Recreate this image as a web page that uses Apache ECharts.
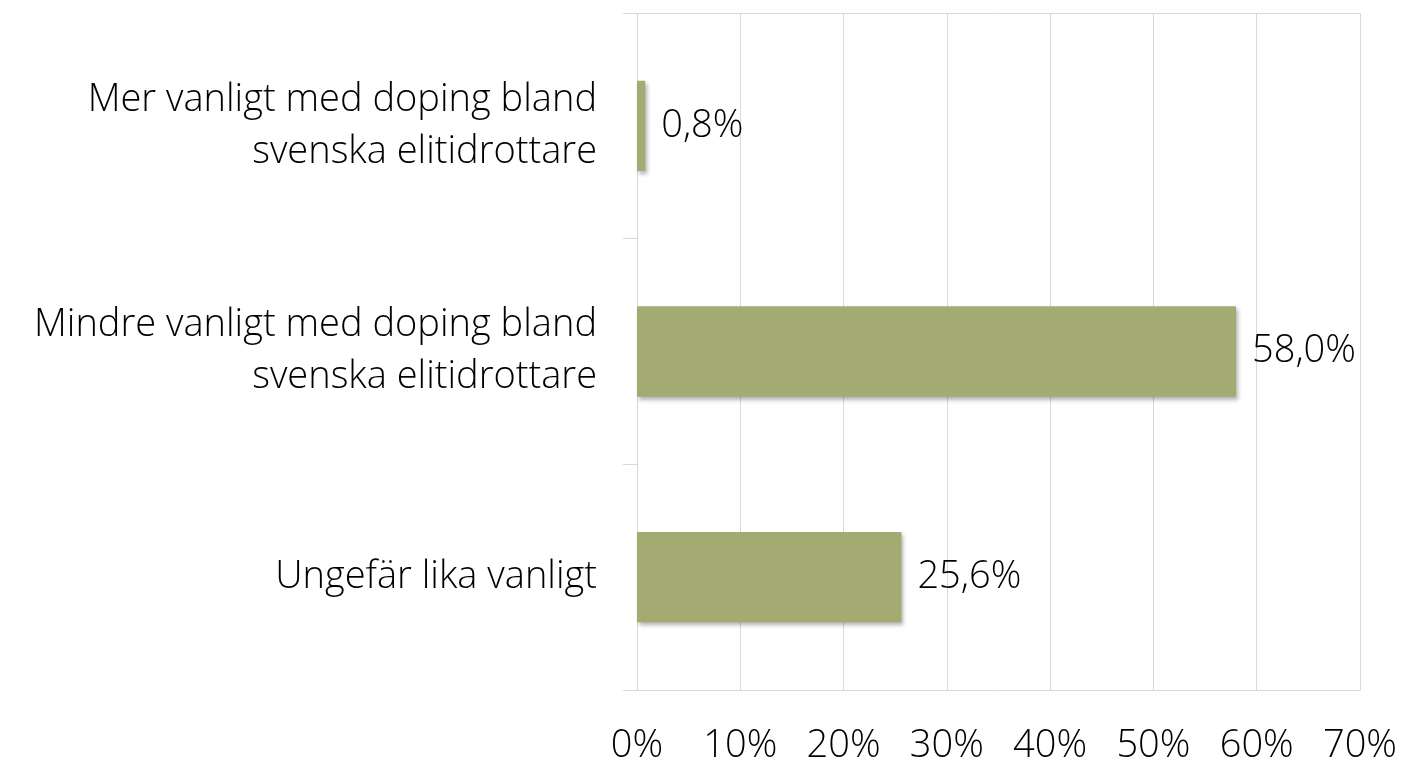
<!DOCTYPE html>
<html>
<head>
<meta charset="utf-8">
<script src="https://cdn.jsdelivr.net/npm/echarts@6/dist/echarts.min.js"></script>
<style>
html,body{margin:0;padding:0;background:#fff;}
#chart{width:1401px;height:765px;}
</style>
</head>
<body>
<div id="chart"></div>
<script>
var categories = [
  "Mer vanligt med doping bland\nsvenska elitidrottare",
  "Mindre vanligt med doping bland\nsvenska elitidrottare",
  "Ungefär lika vanligt"
];
var values = [0.8, 58.0, 25.6];
var xTicks = [0, 10, 20, 30, 40, 50, 60, 70];

var FONT = '"Open Sans"';
var FS = 38;
var chart = echarts.init(document.getElementById('chart'), null, {renderer: 'canvas'});
chart.setOption({
  animation: false,
  grid: {left: 637, right: 41, top: 13, bottom: 72, containLabel: false},
  xAxis: [{
    type: 'value',
    min: xTicks[0],
    max: xTicks[xTicks.length - 1],
    interval: 10,
    position: 'bottom',
    axisLine: {show: true, lineStyle: {color: '#d9d9d9', width: 1}},
    axisTick: {show: false},
    axisLabel: {
      margin: 37,
      fontFamily: FONT, fontWeight: 300, fontSize: FS, color: '#000',
      formatter: function (v) { return v + '%'; }
    },
    splitLine: {show: true, lineStyle: {color: '#d9d9d9', width: 1}}
  }, {
    type: 'value',
    min: xTicks[0],
    max: xTicks[xTicks.length - 1],
    interval: 10,
    position: 'top',
    axisLine: {show: true, onZero: false, lineStyle: {color: '#d9d9d9', width: 1}},
    axisTick: {show: false},
    axisLabel: {show: false},
    splitLine: {show: false}
  }],
  yAxis: {
    type: 'category',
    inverse: true,
    data: categories,
    axisLine: {show: false},
    axisTick: {show: true, length: 14, inside: false, lineStyle: {color: '#d9d9d9', width: 1}},
    axisLabel: {
      margin: 40,
      fontFamily: FONT, fontWeight: 300, fontSize: FS, color: '#000',
      lineHeight: 52, align: 'right',
      padding: [6, 0, 0, 0]
    },
    splitLine: {show: false}
  },
  series: [{
    type: 'bar',
    data: values,
    barWidth: '40%',
    itemStyle: {
      color: '#A3AB72',
      shadowColor: 'rgba(0,0,0,0.3)',
      shadowBlur: 4,
      shadowOffsetX: 2,
      shadowOffsetY: 3
    },
    label: {
      show: true,
      position: 'right',
      distance: 16,
      fontFamily: FONT, fontWeight: 300, fontSize: FS, color: '#000',
      formatter: function (p) { return p.value.toFixed(1).replace('.', ',') + '%'; }
    }
  }]
});
</script>
</body>
</html>
